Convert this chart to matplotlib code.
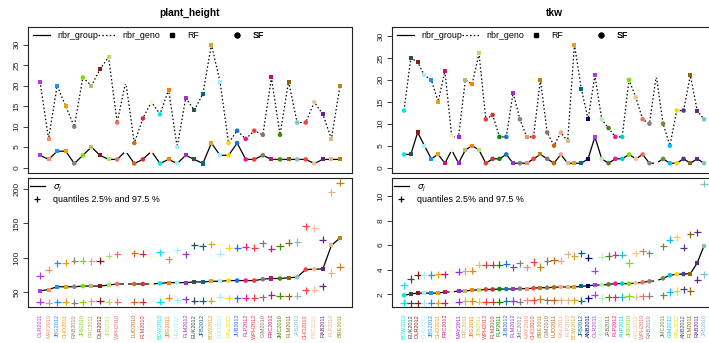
import numpy as np
import matplotlib.pyplot as plt
from matplotlib.lines import Line2D

plt.rcParams['font.family'] = ['Liberation Sans', 'DejaVu Sans']

# plant_height: environments ordered by increasing sigma_j
ph_env = ['OLR2011', 'MAY2010', 'JBG2012', 'CHO2011', 'RAB2010', 'JFB2010', 'FRC2011', 'OLR2012',
          'JFB2011', 'WPH2010', 'HEC2011', 'LUD2010', 'FLM2010', 'OLR2010', 'BOW2010', 'JBG2011',
          'HEC2010', 'FLM2012', 'EUK2012', 'JFB2012', 'BOW2012', 'CHO2012', 'RAL2012', 'JUB2012',
          'FLP2012', 'WPH2012', 'GIM2010', 'FRC2012', 'JMC2010', 'FLM2011', 'JAB2010', 'CHO2010',
          'FRC2010', 'RAB2011', 'FLP2010', 'BRE2011']
ph_col = ['#B23AEE', '#FF8C69', '#1E90FF', '#F0A000', '#8B8378', '#7CE000', '#C0B46E', '#8B1A1A',
          '#B8E060', '#F07060', '#F8F8FF', '#D2691E', '#CD3333', '#FFF3D0', '#00E8EE', '#FF7F00',
          '#98F5FF', '#9A32CD', '#2F4F4F', '#00688B', '#DAA520', '#A0F0F5', '#FFD700', '#1874CD',
          '#FF1493', '#EE3B3B', '#8B7765', '#CD1076', '#458B00', '#8B6508', '#7AC5CD', '#FF4040',
          '#F4C490', '#68228B', '#DEB887', '#B8860B']
ph_type = ['RF', 'RF', 'RF', 'RF', 'SF', 'SF', 'RF', 'RF', 'RF', 'SF', 'RF', 'SF',
           'SF', 'SF', 'SF', 'RF', 'SF', 'RF', 'RF', 'RF', 'RF', 'RF', 'SF', 'SF',
           'SF', 'SF', 'SF', 'RF', 'SF', 'RF', 'SF', 'SF', 'SF', 'RF', 'RF', 'RF']
ph_geno = [21, 7, 20, 15, 10, 22, 20, 24, 27, 11, 21, 6, 12, 16, 13, 19, 5, 17,
           14, 18, 30, 21, 6, 9, 7, 9, 8, 22, 8, 21, 11, 11, 16, 13, 7, 20]
ph_group = [3, 2, 4, 4, 1, 3, 5, 3, 2, 2, 4, 1, 2, 4, 1, 2, 1, 3,
            2, 1, 6, 3, 3, 6, 2, 2, 3, 2, 2, 2, 2, 2, 1, 2, 2, 2]
ph_sigma = [52, 54, 58, 58, 58, 59, 59, 59, 60.5, 62, 62, 62, 62, 62, 63, 64, 64, 64,
            65, 65, 66, 66, 67, 67, 67, 67, 69, 70, 70, 71, 72, 83, 83.5, 84, 118, 129]
ph_qlo = [36, 35, 35.5, 36, 35, 35.5, 37, 37.5, 36, 36, 39, 36.5, 36.5, 38, 36.5, 42, 38.5, 40,
          37.5, 37.5, 37.5, 43.5, 41, 41, 42, 42, 43, 46, 45, 44, 45, 53, 54, 59, 78, 87]
ph_qhi = [74, 83, 92, 93, 96, 96, 95, 95.5, 103, 105, 97, 106.5, 106, 103, 108, 98, 111, 105,
          118, 117, 120, 106, 115, 115, 116, 115, 121, 113, 117, 122, 123, 146, 143, 126, 195, 209]

# tkw: environments ordered by increasing sigma_j
tkw_env = ['BOW2010', 'EUK2012', 'OLR2012', 'CHO2012', 'JBG2012', 'CHO2011', 'FRC2012', 'OLR2010',
           'MAY2011', 'FRC2011', 'JBG2011', 'JFB2011', 'WPH2012', 'FLM2010', 'FLP2011', 'JUB2012',
           'FLM2012', 'JMC2012', 'MAY2010', 'CHO2010', 'BRE2011', 'GIM2010', 'LUD2011', 'RAL2011',
           'FLP2010', 'BOW2012', 'JFB2012', 'ANB2011', 'OLR2011', 'OBH2011', 'JAB2011', 'FLP2012',
           'AUP2011', 'JFB2010', 'FRC2010', 'WPH2010', 'RAB2010', 'HEC2011', 'JMC2011', 'GIM2012',
           'RAL2012', 'ANB2012', 'FLM2011', 'RAB2011', 'JAB2010']
tkw_col = ['#00E8EE', '#2F4F4F', '#8B1A1A', '#A0F0F5', '#1E90FF', '#F0A000', '#CD1076', '#FFF3D0',
           '#A020F0', '#C0B46E', '#FF7F00', '#B8E060', '#EE3B3B', '#CD3333', '#008B00', '#1874CD',
           '#9A32CD', '#7F7F7F', '#FF8C69', '#FF4040', '#B8860B', '#8B7765', '#CD6600', '#F4A58A',
           '#DEB887', '#DAA520', '#00688B', '#000080', '#B23AEE', '#B4F0B4', '#5C7A29', '#FF1493',
           '#00CED1', '#7CE000', '#F4C490', '#F07060', '#8B8378', '#F8F8FF', '#6E8B3D', '#00BFFF',
           '#FFD700', '#483D8B', '#8B6508', '#68228B', '#7AC5CD']
tkw_type = ['SF', 'RF', 'RF', 'RF', 'RF', 'RF', 'RF', 'SF', 'RF', 'RF', 'RF', 'RF', 'SF', 'SF', 'SF',
            'SF', 'RF', 'SF', 'RF', 'SF', 'RF', 'SF', 'SF', 'SF', 'RF', 'RF', 'RF', 'RF', 'RF', 'SF',
            'SF', 'SF', 'SF', 'SF', 'SF', 'SF', 'SF', 'SF', 'SF', 'SF', 'SF', 'SF', 'RF', 'RF', 'SF']
tkw_geno = [13, 25, 24, 21, 20, 15, 22, 7, 7, 20, 19, 26, 11, 12, 7, 7, 17, 11, 7, 7, 20, 8, 5,
            8, 6, 28, 18, 11, 21, 11, 9, 7, 7, 20, 16, 11, 10, 21, 10, 5, 13, 13, 21, 13, 11]
tkw_group = [3, 3, 8, 5, 2, 3, 1, 4, 1, 4, 5, 4, 1, 2, 2, 3, 1, 1, 1, 2, 3, 2, 1,
             3, 1, 1, 1, 2, 7, 2, 1, 2, 2, 3, 2, 3, 1, 1, 2, 1, 1, 2, 1, 2, 1]
tkw_sigma = [1.92, 2.03, 2.1, 2.1, 2.1, 2.1, 2.19, 2.19, 2.27, 2.27, 2.35, 2.35, 2.4, 2.4, 2.43,
             2.43, 2.43, 2.46, 2.46, 2.5, 2.54, 2.54, 2.57, 2.6, 2.6, 2.6, 2.65, 2.7, 2.76, 2.76,
             2.81, 2.87, 2.87, 2.87, 2.92, 2.98, 3.06, 3.1, 3.3, 3.55, 3.63, 3.65, 3.68, 4.55, 5.93]
tkw_qlo = [1.32, 1.27, 1.27, 1.32, 1.32, 1.32, 1.32, 1.32, 1.4, 1.46, 1.46, 1.4, 1.4, 1.4, 1.4,
           1.46, 1.46, 1.4, 1.51, 1.51, 1.62, 1.51, 1.51, 1.51, 1.51, 1.51, 1.49, 1.67, 1.97, 1.7,
           1.76, 1.76, 1.78, 1.86, 1.81, 1.86, 1.89, 1.92, 1.92, 2.19, 2.27, 2.43, 2.27, 3.19, 3.63]
tkw_qhi = [2.73, 3.25, 3.57, 3.57, 3.57, 3.63, 3.63, 3.9, 3.84, 3.9, 3.92, 4.41, 4.41, 4.41, 4.41,
           4.5, 4.2, 4.52, 4.2, 4.63, 4.22, 4.71, 4.77, 4.74, 5.25, 5.12, 5.33, 4.98, 3.92, 5.06,
           5.12, 5.23, 5.23, 4.55, 5.33, 5.5, 5.33, 5.2, 5.9, 6.45, 6.64, 5.8, 6.88, 7.04, 11.0]

MARK = {'RF': ('s', 2.9), 'SF': ('o', 3.3)}
DOTS = (0, (1.2, 1.8))
LEG_FS = 6.4
TICK_FS = 6


def r_xlim(n):
    # R style 4% padding around 1..n
    pad = 0.04 * (n - 1)
    return 1 - pad, n + pad


def style_axes(ax):
    for sp in ax.spines.values():
        sp.set_linewidth(0.8)
        sp.set_color('#222222')
    ax.tick_params(axis='y', length=3.5, width=0.6, pad=2, labelsize=TICK_FS, colors='#222222')
    for lab in ax.get_yticklabels():
        lab.set_rotation(90)
        lab.set_va('center')


def colored_marks(ax, x, y, cols, kinds):
    for k in ('RF', 'SF'):
        idx = [i for i, t in enumerate(kinds) if t == k]
        m, s = MARK[k]
        ax.scatter(np.asarray(x)[idx], np.asarray(y)[idx], c=[cols[i] for i in idx],
                   marker=m, s=s ** 2, linewidths=0, zorder=3)


def draw_trait(ax_top, ax_bot, title, env, cols, kinds, geno, group, sigma, qlo, qhi,
               top_ylim, bot_ylim, bot_ticks):
    n = len(env)
    x = np.arange(1, n + 1)

    # number of genotypes / groups per environment
    ax_top.plot(x, geno, color='black', lw=0.9, ls=DOTS, zorder=2)
    ax_top.plot(x, group, color='black', lw=0.9, zorder=2)
    colored_marks(ax_top, x, geno, cols, kinds)
    colored_marks(ax_top, x, group, cols, kinds)
    ax_top.set_xlim(*r_xlim(n))
    ax_top.set_ylim(*top_ylim)
    ax_top.set_xticks([])
    ax_top.set_yticks(range(0, 31, 5))
    ax_top.set_title(title, fontsize=7.3, fontweight='bold', pad=8)
    style_axes(ax_top)

    handles = [Line2D([], [], color='black', lw=0.9),
               Line2D([], [], color='black', lw=0.9, ls=DOTS),
               Line2D([], [], color='black', marker='s', ls='none', ms=2.9),
               Line2D([], [], color='black', marker='o', ls='none', ms=3.3)]
    labels = ['nbr_group', 'nbr_geno', 'RF', 'SF']
    for h, lab, xf in zip(handles, labels, [0.0154, 0.216, 0.418, 0.619]):
        leg = ax_top.legend([h], [lab], loc='upper left', bbox_to_anchor=(xf, 0.975),
                            frameon=False, fontsize=LEG_FS, borderpad=0, borderaxespad=0,
                            handlelength=1.9, handletextpad=0.8)
        ax_top.add_artist(leg)

    # sigma_j with 2.5% / 97.5% quantiles
    ax_bot.plot(x, sigma, color='black', lw=0.9, zorder=2)
    ax_bot.scatter(x, qlo, c=cols, marker='+', s=26, linewidths=0.9, zorder=3)
    ax_bot.scatter(x, qhi, c=cols, marker='+', s=26, linewidths=0.9, zorder=3)
    colored_marks(ax_bot, x, sigma, cols, kinds)
    ax_bot.set_xlim(*r_xlim(n))
    ax_bot.set_ylim(*bot_ylim)
    ax_bot.set_yticks(bot_ticks)
    ax_bot.set_xticks(x)
    ax_bot.set_xticklabels(env, rotation=90, fontsize=4, va='top', ha='center')
    for lab, c in zip(ax_bot.get_xticklabels(), cols):
        lab.set_color(c)
    ax_bot.tick_params(axis='x', length=0, pad=5)
    style_axes(ax_bot)

    ax_bot.legend([Line2D([], [], color='black', lw=0.9),
                   Line2D([], [], color='black', marker='+', ls='none', ms=5, mew=0.9)],
                  [r'$\sigma_j$', 'quantiles 2.5% and 97.5 %'],
                  loc='upper left', bbox_to_anchor=(0.006, 0.965), frameon=False,
                  fontsize=LEG_FS, borderpad=0, borderaxespad=0, handlelength=1.7,
                  handletextpad=0.9, labelspacing=0.15)


fig = plt.figure(figsize=(7.09, 3.43), dpi=100)
W, H = 709.0, 343.0
aw = 324 / W
ax1 = fig.add_axes([28 / W, 1 - 173 / H, aw, 146 / H])
ax2 = fig.add_axes([28 / W, 1 - 307 / H, aw, 129 / H])
ax3 = fig.add_axes([392 / W, 1 - 173 / H, aw, 146 / H])
ax4 = fig.add_axes([392 / W, 1 - 307 / H, aw, 129 / H])

draw_trait(ax1, ax2, 'plant_height', ph_env, ph_col, ph_type, ph_geno, ph_group,
           ph_sigma, ph_qlo, ph_qhi, (-1.32, 34.32), (28.6, 216), [50, 100, 150, 200])
draw_trait(ax3, ax4, 'tkw', tkw_env, tkw_col, tkw_type, tkw_geno, tkw_group,
           tkw_sigma, tkw_qlo, tkw_qhi, (-1.23, 32.03), (0.97, 11.46), [2, 4, 6, 8, 10])

fig.savefig('out.png', dpi=100)
